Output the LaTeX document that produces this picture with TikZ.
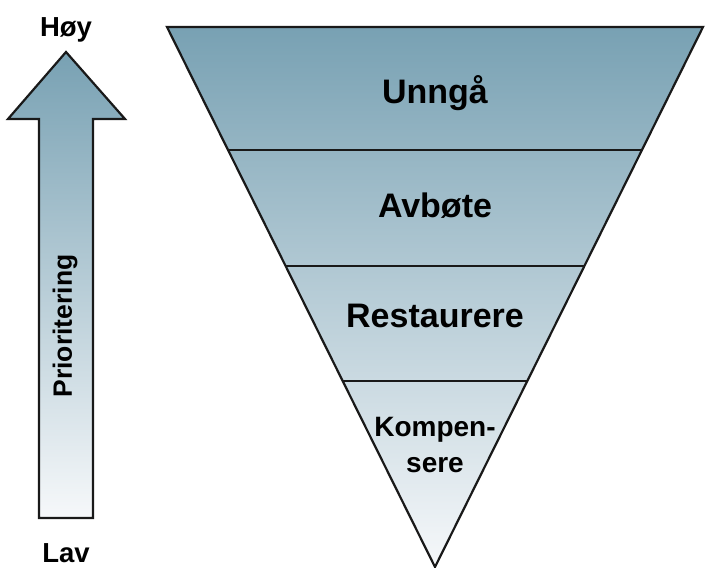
\documentclass[tikz,border=0pt]{standalone}
\usepackage{fontspec}
\setmainfont{Liberation Sans}
\usetikzlibrary{calc,positioning}
\definecolor{shadetop}{RGB}{120,161,179}
\definecolor{shadebottom}{RGB}{246,248,250}

\begin{document}
\begin{tikzpicture}[x=1pt,y=-1pt,
    level label/.style={font=\fontsize{34}{36}\selectfont\bfseries,text=black,align=center},
    side label/.style={font=\fontsize{27.5}{30}\selectfont\bfseries,text=black},
    outline/.style={draw=black!90,line width=2.2pt,line join=miter}]
        \useasboundingbox (0,0) rectangle (705,568);

        % funnel
        \coordinate (tl) at (167,27);
        \coordinate (tr) at (703,27);
        \coordinate (apex) at (435,567);
        \shade[top color=shadetop,bottom color=shadebottom,outline] (tl) -- (tr) -- (apex) -- cycle;
        \foreach \f/\n in {0.2278/a,0.4426/b,0.6556/c}{
          \coordinate (l\n) at ($(tl)!\f!(apex)$);
          \coordinate (r\n) at ($(tr)!\f!(apex)$);
          \draw[outline] (l\n) -- (r\n);
        }
        \node[level label] (unnga) at (435,93) {Unngå};
        \node[level label] (avbote) at (435,206) {Avbøte};
        \node[level label] (restaurere) at (435,316) {Restaurere};
        \node[level label,font=\fontsize{28}{36}\selectfont\bfseries] (kompensere) at (435,445) {Kompen-\\sere};

        % priority arrow
        \shade[top color=shadetop,bottom color=shadebottom,outline]
          (66,52) -- (125,119) -- (93,119) -- (93,518) -- (39,518) -- (39,119) -- (8,119) -- cycle;
        \node[side label] (hoy) at (66,30) {Høy};
        \node[side label] (lav) at (66,553) {Lav};
        \node[side label,font=\fontsize{26.5}{28}\selectfont\bfseries,rotate=90] (prio) at (65,326) {Prioritering};
\end{tikzpicture}
\end{document}
